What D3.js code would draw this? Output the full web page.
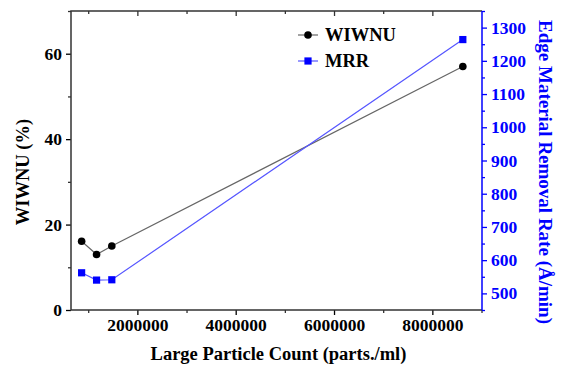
<!DOCTYPE html>
<html>
<head>
<meta charset="utf-8">
<script src="https://cdn.jsdelivr.net/npm/d3@7"></script>
<style>
  body { margin: 0; background: #fff; }
  text { font-family: "Liberation Serif", "Times New Roman", serif; font-weight: bold; }
</style>
</head>
<body>
<svg id="chart" width="561" height="373"></svg>
<script>
// data
var particleCount = [866000, 1170000, 1480000, 8620000];
var wiwnu = [16.1, 13.0, 15.0, 57.0];
var mrr = [562, 540, 541, 1264];
var xTicks = [2000000, 4000000, 6000000, 8000000];
var xMinor = [1000000, 3000000, 5000000, 7000000, 9000000];
var leftTicks = [0, 20, 40, 60];
var leftMinor = [10, 30, 50, 70];
var rightTicks = [500, 600, 700, 800, 900, 1000, 1100, 1200, 1300];
var rightMinor = [450, 550, 650, 750, 850, 950, 1050, 1150, 1250, 1350];
var seriesNames = ['WIWNU', 'MRR'];

var BLUE = '#0000ff';
var AXIS = '#333';
var plotLeft = 71, plotRight = 482, plotTop = 11, plotBottom = 310;

var svg = d3.select('#chart');
var x = d3.scaleLinear().domain([650000, 9010000]).range([plotLeft, plotRight]);
var yL = d3.scaleLinear().domain([0, 70]).range([plotBottom, plotTop]);
var yR = d3.scaleLinear().domain([450, 1350]).range([plotBottom, plotTop]);

function styleAxis(g, color, size) {
    g.select('.domain').remove();
    g.selectAll('line').attr('stroke', color).attr('stroke-width', 1.3);
    g.selectAll('text').attr('fill', color).style('font-size', size + 'px');
}

// bottom axis
svg.append('g').attr('transform', 'translate(0,' + plotBottom + ')')
    .call(d3.axisBottom(x).tickValues(xTicks).tickSize(5).tickPadding(4).tickFormat(d3.format('d')))
    .call(styleAxis, '#000', 17.5);
svg.append('g').attr('transform', 'translate(0,' + plotBottom + ')')
    .call(d3.axisBottom(x).tickValues(xMinor).tickSize(3).tickFormat(''))
    .call(styleAxis, AXIS, 16);
// top (mirror, inward ticks)
svg.append('g').attr('transform', 'translate(0,' + plotTop + ')')
    .call(d3.axisBottom(x).tickValues(xTicks).tickSize(5).tickFormat(''))
    .call(styleAxis, AXIS, 16);
svg.append('g').attr('transform', 'translate(0,' + plotTop + ')')
    .call(d3.axisBottom(x).tickValues(xMinor.filter(function (v) { return v < 9000000; })).tickSize(3).tickFormat(''))
    .call(styleAxis, AXIS, 16);

// left axis
svg.append('g').attr('transform', 'translate(' + plotLeft + ',0)')
    .call(d3.axisLeft(yL).tickValues(leftTicks).tickSize(5).tickPadding(4))
    .call(styleAxis, '#000', 17.5);
svg.append('g').attr('transform', 'translate(' + plotLeft + ',0)')
    .call(d3.axisLeft(yL).tickValues(leftMinor).tickSize(3).tickFormat(''))
    .call(styleAxis, AXIS, 16);

// right axis (blue)
svg.append('g').attr('transform', 'translate(' + plotRight + ',0)')
    .call(d3.axisRight(yR).tickValues(rightTicks).tickSize(5).tickPadding(4).tickFormat(d3.format('d')))
    .call(styleAxis, BLUE, 17.5);
svg.append('g').attr('transform', 'translate(' + plotRight + ',0)')
    .call(d3.axisRight(yR).tickValues(rightMinor).tickSize(3).tickFormat(''))
    .call(styleAxis, BLUE, 16);

// frame lines
svg.append('path').attr('d', 'M' + plotRight + ',' + plotTop + 'H' + plotLeft + 'V' + plotBottom + 'H' + plotRight)
    .attr('fill', 'none').attr('stroke', AXIS).attr('stroke-width', 1.5);
svg.append('line').attr('x1', plotRight).attr('x2', plotRight).attr('y1', plotTop).attr('y2', plotBottom)
    .attr('stroke', BLUE).attr('stroke-width', 1.5);

// series
var wData = particleCount.map(function (c, i) { return [c, wiwnu[i]]; });
var mData = particleCount.map(function (c, i) { return [c, mrr[i]]; });

svg.append('path').datum(wData)
    .attr('d', d3.line().x(function (d) { return x(d[0]); }).y(function (d) { return yL(d[1]); }))
    .attr('fill', 'none').attr('stroke', '#666').attr('stroke-width', 1.2);
svg.append('path').datum(mData)
    .attr('d', d3.line().x(function (d) { return x(d[0]); }).y(function (d) { return yR(d[1]); }))
    .attr('fill', 'none').attr('stroke', '#5555ff').attr('stroke-width', 1.2);

svg.selectAll('circle.w').data(wData).enter().append('circle')
    .attr('cx', function (d) { return x(d[0]); }).attr('cy', function (d) { return yL(d[1]); })
    .attr('r', 3.8).attr('fill', '#000');
svg.selectAll('rect.m').data(mData).enter().append('rect')
    .attr('x', function (d) { return x(d[0]) - 3.6; }).attr('y', function (d) { return yR(d[1]) - 3.6; })
    .attr('width', 7.2).attr('height', 7.2).attr('fill', BLUE);

// legend
var legend = svg.append('g').attr('transform', 'translate(298,35)');
seriesNames.forEach(function (name, i) {
    var g = legend.append('g').attr('transform', 'translate(0,' + (i * 26) + ')');
    g.append('line').attr('x1', 0).attr('x2', 20).attr('stroke', i ? '#5555ff' : '#666').attr('stroke-width', 1.2);
    if (i) g.append('rect').attr('x', 6.4).attr('y', -3.6).attr('width', 7.2).attr('height', 7.2).attr('fill', BLUE);
    else g.append('circle').attr('cx', 10).attr('r', 3.8).attr('fill', '#000');
    g.append('text').attr('x', 27).attr('y', 6).style('font-size', '18.5px').attr('fill', '#000').text(name);
});

// axis titles
svg.append('text').attr('x', (plotLeft + plotRight) / 2 + 2).attr('y', 360).attr('text-anchor', 'middle')
    .style('font-size', '18.5px').text('Large Particle Count (parts./ml)');
svg.append('text').attr('transform', 'translate(29,' + 172 + ')rotate(-90)')
    .attr('text-anchor', 'middle').style('font-size', '18.5px').text('WIWNU (%)');
svg.append('text').attr('transform', 'translate(539,' + 172 + ')rotate(90)')
    .attr('text-anchor', 'middle').style('font-size', '19px').attr('fill', BLUE)
    .text('Edge Material Removal Rate (Å/min)');
</script>
</body>
</html>
